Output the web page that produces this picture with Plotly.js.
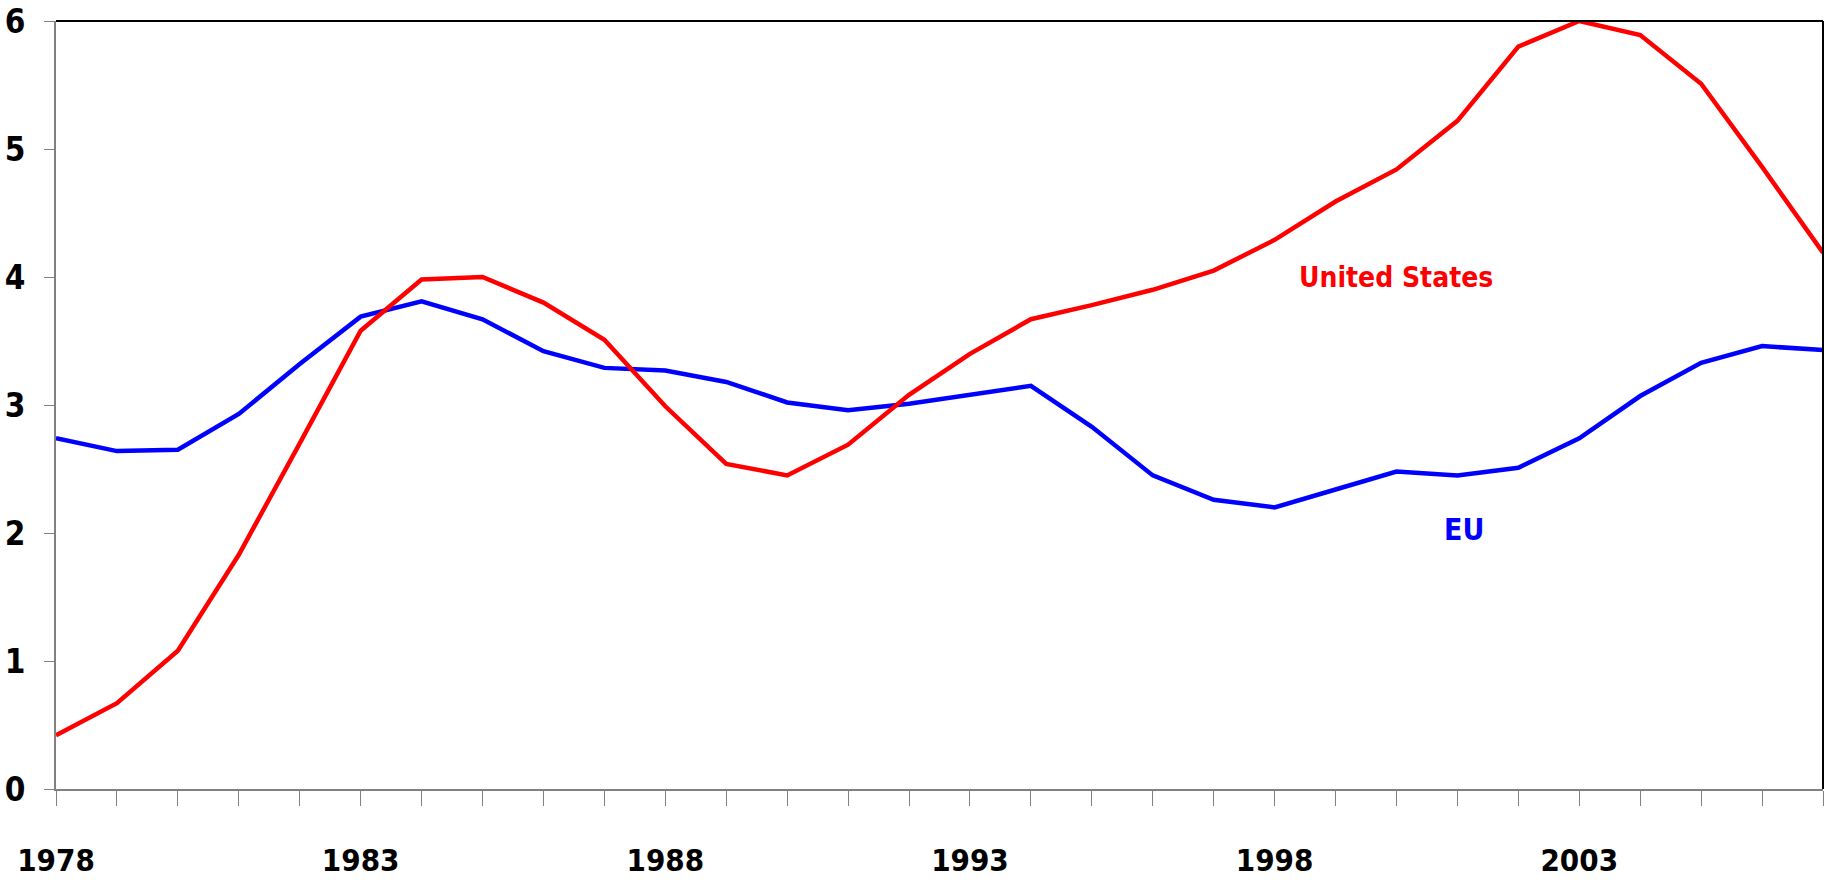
<!DOCTYPE html>
<html>
<head>
<meta charset="utf-8">
<script src="https://cdn.plot.ly/plotly-3.0.1.min.js"></script>
<style>html,body{margin:0;padding:0;background:#fff;}#chart{width:1831px;height:884px;}</style>
</head>
<body>
<div id="chart"></div>
<script>
const years = [1978,1979,1980,1981,1982,1983,1984,1985,1986,1987,1988,1989,1990,1991,1992,1993,1994,1995,1996,1997,1998,1999,2000,2001,2002,2003,2004,2005,2006,2007];
const unitedStates = [0.42,0.67,1.08,1.83,2.70,3.58,3.98,4.00,3.80,3.51,2.99,2.54,2.45,2.69,3.08,3.40,3.67,3.78,3.90,4.05,4.29,4.59,4.84,5.22,5.80,6.00,5.89,5.51,4.86,4.19];
const eu = [2.74,2.64,2.65,2.93,3.32,3.69,3.81,3.67,3.42,3.29,3.27,3.18,3.02,2.96,3.01,3.08,3.15,2.83,2.45,2.26,2.20,2.34,2.48,2.45,2.51,2.74,3.07,3.33,3.46,3.43];
const xTickYears = [1978,1983,1988,1993,1998,2003];
const yTicks = [0,1,2,3,4,5,6];

const FONT = "'DejaVu Sans Condensed', 'Liberation Sans', sans-serif";

const traces = [
  {x: years, y: eu, type: 'scatter', mode: 'lines', name: 'EU', line: {color: '#0000ff', width: 4.5}},
  {x: years, y: unitedStates, type: 'scatter', mode: 'lines', name: 'United States', line: {color: '#ff0000', width: 4.5}}
];

const layout = {
  width: 1831, height: 884,
  margin: {l: 56, r: 8, t: 21, b: 95},
  paper_bgcolor: '#fff', plot_bgcolor: '#fff',
  showlegend: false,
  font: {family: FONT, color: '#000'},
  xaxis: {
    range: [years[0], years[years.length-1]],
    tickmode: 'array', tickvals: xTickYears, ticktext: xTickYears.map(String),
    ticks: 'outside', ticklen: 15, tickcolor: '#808080', tickwidth: 1,
    minor: {tickmode: 'array', tickvals: years, ticks: 'outside', ticklen: 15, tickcolor: '#808080', tickwidth: 1, showgrid: false},
    showgrid: false, zeroline: false,
    showline: true, linecolor: '#808080', linewidth: 2,
    tickfont: {family: FONT, size: 31, color: '#000', weight: 'bold'},
    ticklabelstandoff: 28
  },
  yaxis: {
    range: [0, 6],
    tickmode: 'array', tickvals: yTicks, ticktext: yTicks.map(String),
    ticks: 'outside', ticklen: 10, tickcolor: '#808080', tickwidth: 1,
    showgrid: false, zeroline: false,
    showline: true, linecolor: '#808080', linewidth: 2,
    tickfont: {family: FONT, size: 33, color: '#000', weight: 'bold'},
    ticklabelstandoff: 12
  },
  shapes: [
    {type: 'line', xref: 'paper', yref: 'paper', x0: 0, x1: 1, y0: 1, y1: 1, line: {color: '#000', width: 2}},
    {type: 'line', xref: 'paper', yref: 'paper', x0: 1, x1: 1, y0: 0, y1: 1, line: {color: '#000', width: 2}}
  ],
  annotations: [
    {x: 2000, y: 4.0, xref: 'x', yref: 'y', text: 'United States', showarrow: false,
     font: {family: FONT, size: 28, color: '#ff0000', weight: 'bold'}},
    {x: 2001.1, y: 2.03, xref: 'x', yref: 'y', text: 'EU', showarrow: false,
     font: {family: FONT, size: 30, color: '#0000ff', weight: 'bold'}}
  ]
};

Plotly.newPlot('chart', traces, layout, {displayModeBar: false, staticPlot: true});
</script>
</body>
</html>
